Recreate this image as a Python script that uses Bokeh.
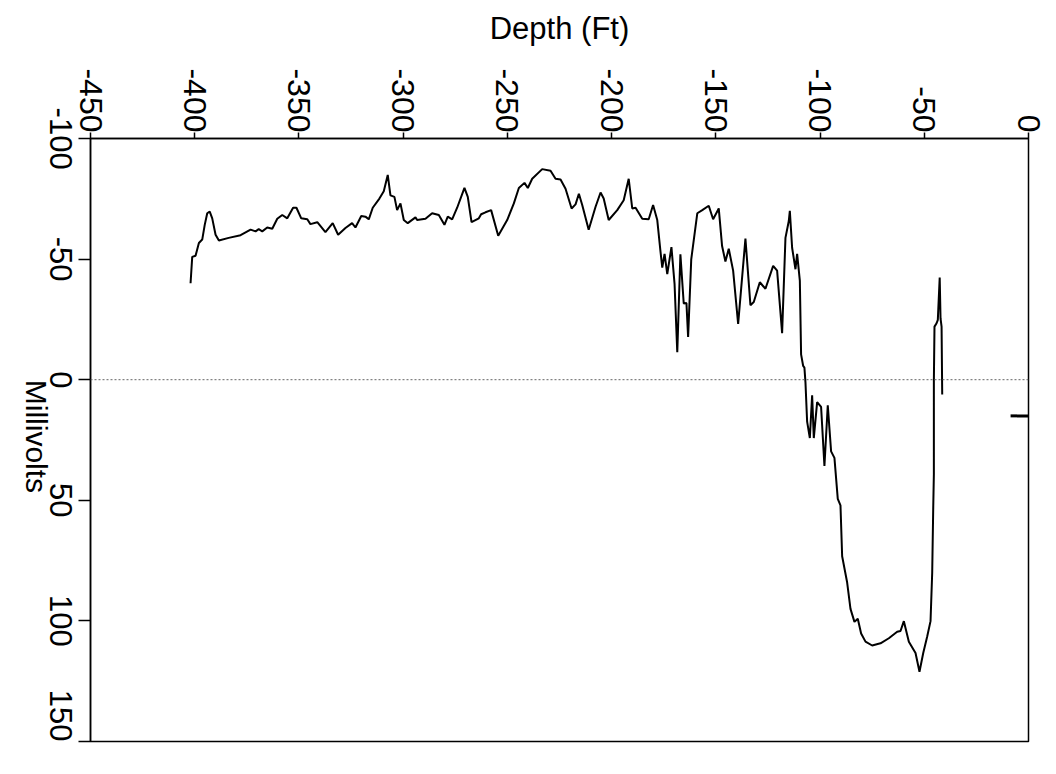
import math
from bokeh.plotting import figure
from bokeh.models import Range1d, Span, FixedTicker, PrintfTickFormatter, LinearAxis
from bokeh.embed import file_html
from bokeh.resources import INLINE

# Depth (Ft) and Millivolts
depth = [-402.0, -401.2, -399.6, -398.0, -396.4, -395.2, -394.0, -392.8, -391.6, -390.0,
         -388.4, -383.7, -378.0, -373.2, -370.8, -369.3, -367.6, -365.2, -362.8, -360.4,
         -358.0, -355.6, -352.8, -351.2, -348.9, -346.0, -344.5, -341.2, -337.3, -333.8,
         -331.2, -327.7, -324.5, -322.9, -320.1, -318.1, -316.5, -314.6, -311.4, -309.3,
         -307.4, -306.1, -304.2, -302.9, -301.3, -299.7, -297.8, -294.1, -293.3, -289.3,
         -286.1, -282.9, -280.2, -278.6, -276.5, -274.1, -270.6, -269.0, -267.2, -263.7,
         -262.6, -260.5, -257.8, -254.4, -250.1, -246.9, -244.5, -241.8, -240.2, -238.1,
         -233.3, -229.3, -226.9, -224.5, -222.1, -219.2, -217.3, -215.7, -214.1, -211.0,
         -207.7, -205.3, -203.8, -201.4, -197.3, -194.2, -191.8, -190.1, -188.5, -185.3,
         -182.2, -180.1, -178.1,
         -176.6, -175.7, -174.6, -173.3, -171.3, -169.8, -168.5, -167.0, -165.4, -164.1,
         -163.3, -161.8, -158.9, -156.5, -153.4, -151.3, -148.6, -147.0, -145.4, -143.8,
         -141.7, -139.3, -135.8, -133.4, -131.8, -128.9, -126.2, -122.5, -120.6, -118.2,
         -116.6, -115.0, -114.5, -113.4, -111.8, -111.0, -109.7, -109.1, -108.1,
         -107.5, -107.0, -106.2, -104.9, -103.8, -103.0, -101.4, -99.5, -97.9, -96.3,
         -94.7, -93.1, -91.5, -90.2, -89.4, -87.0, -85.4, -83.5, -81.9, -80.3,
         -78.2, -75.0, -71.0, -67.0, -63.0, -61.4, -59.8, -57.4, -54.2, -52.3,
         -50.5, -48.6, -47.0, -46.2, -45.7, -45.4, -45.4, -45.1, -44.1, -43.5,
         -42.6, -42.2, -41.7, -41.4]
millivolts = [-40.0, -50.9, -51.4, -56.7, -58.1, -64.2, -69.0, -69.7, -66.9, -60.1,
              -57.7, -58.8, -59.9, -62.2, -61.5, -62.4, -61.5, -63.1, -62.6, -66.7,
              -68.3, -66.9, -71.3, -71.3, -66.9, -66.5, -64.5, -65.3, -61.2, -64.9,
              -60.1, -62.9, -64.9, -63.1, -67.9, -67.6, -66.5, -71.3, -75.1, -78.1,
              -84.9, -76.4, -75.8, -70.3, -73.1, -66.2, -64.9, -67.3, -66.2, -66.7,
              -69.0, -68.3, -64.2, -67.6, -66.5, -71.3, -79.5, -75.8, -65.3, -66.9,
              -68.6, -69.4, -70.3, -59.7, -66.2, -73.1, -79.5, -81.6, -79.5, -83.3,
              -87.3, -86.6, -83.3, -83.0, -79.2, -71.0, -72.7, -77.1, -72.4, -62.2,
              -71.7, -77.6, -75.1, -66.2, -70.3, -74.4, -83.3, -71.0, -71.3, -66.7,
              -66.5, -72.4, -66.2,
              -53.5, -46.5, -52.2, -43.8, -55.0, -39.7, -11.4, -52.0, -31.6, -31.8,
              -17.7, -49.9, -69.0, -70.3, -72.1, -66.5, -71.0, -55.4, -49.0, -54.3,
              -45.2, -23.1, -58.5, -30.9, -32.2, -40.4, -37.7, -47.2, -45.2, -19.3,
              -58.8, -65.8, -70.0, -54.7, -45.8, -52.2, -41.1, -10.5, -5.7,
              -5.0, 1.1, 17.4, 24.2, 6.5, 24.2, 9.3, 11.3, 35.8, 10.6,
              29.7, 32.4, 49.4, 52.1, 73.2, 84.1, 95.0, 100.4, 99.1, 105.2,
              108.6, 110.2, 109.3, 107.2, 104.5, 104.2, 100.1, 108.6, 113.3, 121.1,
              113.3, 106.5, 100.1, 80.0, 52.8, 39.2, 0.4, -22.0, -23.4, -24.8,
              -42.4, -25.4, -22.0, 6.1]

# short isolated mark at the surface
mark_depth = [-8.6, 2.4]
mark_mv = [15.0, 15.0]

x_ticks = [-450, -400, -350, -300, -250, -200, -150, -100, -50, 0]
y_ticks = [-100, -50, 0, 50, 100, 150]
y_tick_labels = ["-100", "-50", "0", "50", "100", "150"]
y_title = "Millivolts"

FONT = "Liberation Sans"
TICK_FONT_PX = 31
PX_PER_MV = 603 / 250.0  # frame height / y span, used only for label placement
Y_MIN, Y_MAX = -100, 150


def half_len_mv(s):
    em = sum(0.333 if c == "-" else 0.556 for c in s)
    return em * TICK_FONT_PX / 2 / PX_PER_MV


# Bokeh right-aligns rotated left-axis labels on their tick: place each label's
# anchor half a label further down so the text is centred on the real tick.
label_anchor = [min(round(v + half_len_mv(t), 1), Y_MAX) for v, t in zip(y_ticks, y_tick_labels)]
title_anchor = 47

p = figure(width=1056, height=774, output_backend="svg", toolbar_location=None,
           x_range=Range1d(-450, 0), y_range=Range1d(Y_MAX, Y_MIN),
           x_axis_location="above", y_axis_location="left",
           min_border_left=89, min_border_right=28, min_border_top=138,
           min_border_bottom=33)

p.background_fill_color = "white"
p.border_fill_color = "white"
p.outline_line_color = "black"
p.outline_line_width = 1.5
p.xgrid.visible = False
p.ygrid.visible = False

zero = Span(location=0, dimension="width", line_color="#666666",
            line_dash="2 2", line_width=1)
p.add_layout(zero)

p.line(depth, millivolts, line_color="black", line_width=2)
p.line(mark_depth, mark_mv, line_color="black", line_width=3)

xa = p.xaxis[0]
xa.ticker = FixedTicker(ticks=x_ticks)
xa.formatter = PrintfTickFormatter(format="%d")
xa.axis_label = "Depth (Ft)"
xa.axis_label_text_font = FONT
xa.axis_label_text_font_size = "31px"
xa.axis_label_text_font_style = "normal"
xa.axis_label_text_color = "black"
xa.axis_label_standoff = 19
xa.major_label_orientation = -math.pi / 2
xa.major_label_text_font = FONT
xa.major_label_text_font_size = "32px"
xa.major_label_text_color = "black"
xa.major_label_standoff = 0
xa.major_tick_out = 6
xa.major_tick_in = 0
xa.minor_tick_out = 0
xa.minor_tick_in = 0
xa.axis_line_width = 1.5
xa.major_tick_line_width = 1.5

ya = p.yaxis[0]
# visible tick marks = minor ticks at the real values; labels sit on invisible majors
ya.ticker = FixedTicker(ticks=label_anchor, minor_ticks=y_ticks)
ya.major_label_overrides = {a: t for a, t in zip(label_anchor, y_tick_labels)}
ya.major_label_orientation = -math.pi / 2
ya.major_label_text_font = FONT
ya.major_label_text_font_size = f"{TICK_FONT_PX}px"
ya.major_label_text_color = "black"
ya.major_label_standoff = 18
ya.major_tick_out = 0
ya.major_tick_in = 0
ya.major_tick_line_color = None
ya.minor_tick_out = 12
ya.minor_tick_in = 0
ya.minor_tick_line_color = "black"
ya.minor_tick_line_width = 1.5
ya.axis_line_width = 1.5

# axis carrying only the title "Millivolts", reading top to bottom
ta = LinearAxis(ticker=FixedTicker(ticks=[title_anchor]),
                major_label_overrides={title_anchor: y_title},
                major_label_orientation=-math.pi / 2,
                major_label_text_font=FONT,
                major_label_text_font_size="30px",
                major_label_text_color="black",
                major_label_standoff=-1,
                major_tick_out=0, major_tick_in=0,
                minor_tick_out=0, minor_tick_in=0,
                axis_line_color=None, major_tick_line_color=None,
                minor_tick_line_color=None)
p.add_layout(ta, "left")

open("out.html", "w").write(file_html(p, INLINE))
